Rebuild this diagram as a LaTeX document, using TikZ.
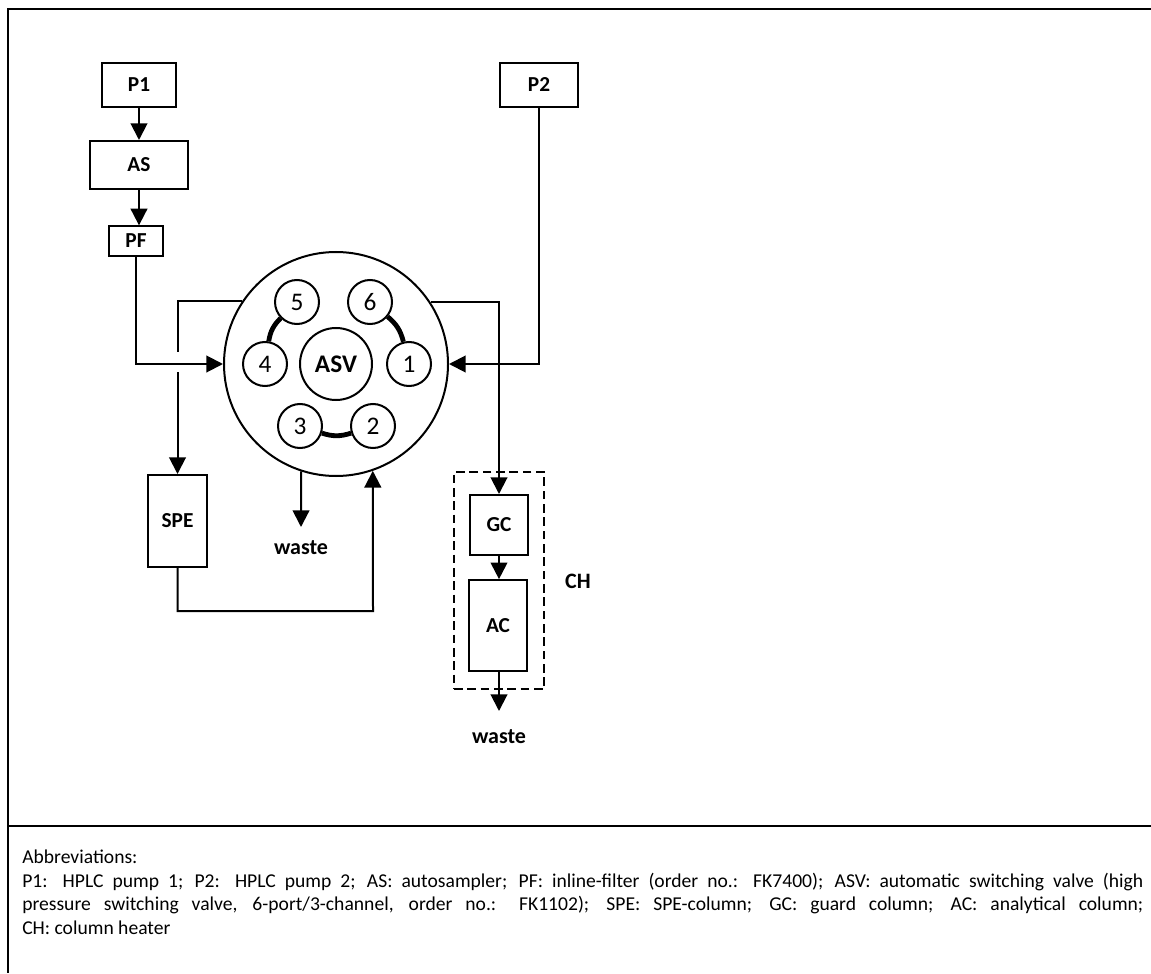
\documentclass[tikz,border=0pt]{standalone}
\usepackage{fontspec}
\usepackage{amsmath}
\setmainfont{Carlito}
\usetikzlibrary{arrows.meta}

\tikzset{
    unit/.style={draw, line width=1.5pt, minimum width=#1, inner sep=0pt, font=\fontsize{16}{19}\selectfont\bfseries},
    port/.style={draw, circle, line width=1.5pt, minimum size=33pt, inner sep=0pt, font=\fontsize{19}{22}\selectfont},
    flow/.style={line width=1.5pt, -{Triangle[length=12.5pt,width=12.5pt]}},
    pipe/.style={line width=1.5pt},
    channel/.style={line width=3.6pt},
    tag/.style={font=\fontsize{16.5}{19}\selectfont\bfseries}
}

\begin{document}
\begin{tikzpicture}[x=0.75pt, y=-0.75pt]
        \useasboundingbox (0,0) rectangle (1151,973);

        % frame
        \draw[line width=1.5pt] (1151,9) -- (8,9) -- (8,973);
        \draw[line width=1.5pt] (8,826) -- (1151,826);

        % left branch
        \node[unit=55pt, minimum height=33pt] (P1) at (139,85) {P1};
        \node[unit=74pt, minimum height=36pt] (AS) at (139,165) {AS};
        \node[unit=40pt, minimum height=22pt] (PF) at (136,241) {PF};
        \node[unit=44pt, minimum height=69pt] (SPE) at (177.5,521) {SPE};
        \node[tag] (w1) at (301,548) {waste};

        % right branch
        \node[unit=58pt, minimum height=33pt] (P2) at (539,85) {P2};
        \node[unit=43.5pt, minimum height=45pt] (GC) at (499,525) {GC};
        \node[unit=43.5pt, minimum height=68pt] (AC) at (498,625.5) {AC};
        \node[draw, dash pattern=on 6.5pt off 3.5pt, line width=1.3pt, minimum width=67.5pt, minimum height=163pt, inner sep=0pt] (CH) at (499,580.5) {};
        \node[tag] (chlabel) at (578,581) {CH};
        \node[tag] (w2) at (499,737) {waste};

        % valve
        \node[draw, circle, line width=1.5pt, minimum size=168pt, inner sep=0pt] (valve) at (336,364) {};
        \node[draw, circle, line width=1.5pt, minimum size=54pt, inner sep=0pt, font=\fontsize{19}{22}\selectfont\bfseries] (ASV) at (336,364) {ASV};
        \node[port] (p1) at (409,364) {1};
        \node[port] (p2) at (373,426) {2};
        \node[port] (p3) at (300,426) {3};
        \node[port] (p4) at (265,364) {4};
        \node[port] (p5) at (297,302) {5};
        \node[port] (p6) at (370,302) {6};

        \draw[channel] (p5) to[bend right=18] (p4);
        \draw[channel] (p6) to[bend left=18] (p1);
        \draw[channel] (p3) to[bend right=18] (p2);

        \coordinate (gaptop) at (177.5,352);
        \coordinate (gapbot) at (177.5,372);
        \coordinate (return) at (373,611);
        \coordinate (w2tip) at (499,711);
        \coordinate (w1tip) at (301,527);

        \draw[flow] (P1) -- (AS);
        \draw[flow] (AS.south) -- (AS.south |- PF.north);
        \draw[flow] (PF.south) |- (valve.west);
        \draw[pipe] (valve.146.4) -| (gaptop);
        \draw[flow] (gapbot) -- (SPE.north);
        \draw[flow] (SPE.south) |- (return) -- (valve.289.3);
        \draw[flow] (valve.252) -- (w1tip);
        \draw[flow] (P2.south) |- (valve.east);
        \draw[flow] (valve.33.6) -| (GC.north);
        \draw[flow] (GC.south) -- (GC.south |- AC.north);
        \draw[flow] (AC.south -| w2tip) -- (w2tip);

        % abbreviations
        \node[anchor=north west, text width=840.75pt, align=justify, inner sep=0pt, font=\fontsize{14.7}{17.6}\selectfont] (notes) at (22,850) {Abbreviations:\\
        P1: HPLC pump 1; P2: HPLC pump 2; AS: autosampler; PF: inline-filter (order no.: FK7400); ASV: automatic switching valve (high\linebreak
        pressure switching valve, 6-port/3-channel, order no.: FK1102); SPE: SPE-column; GC: guard column; AC: analytical column;\linebreak
        CH: column heater};
\end{tikzpicture}
\end{document}
